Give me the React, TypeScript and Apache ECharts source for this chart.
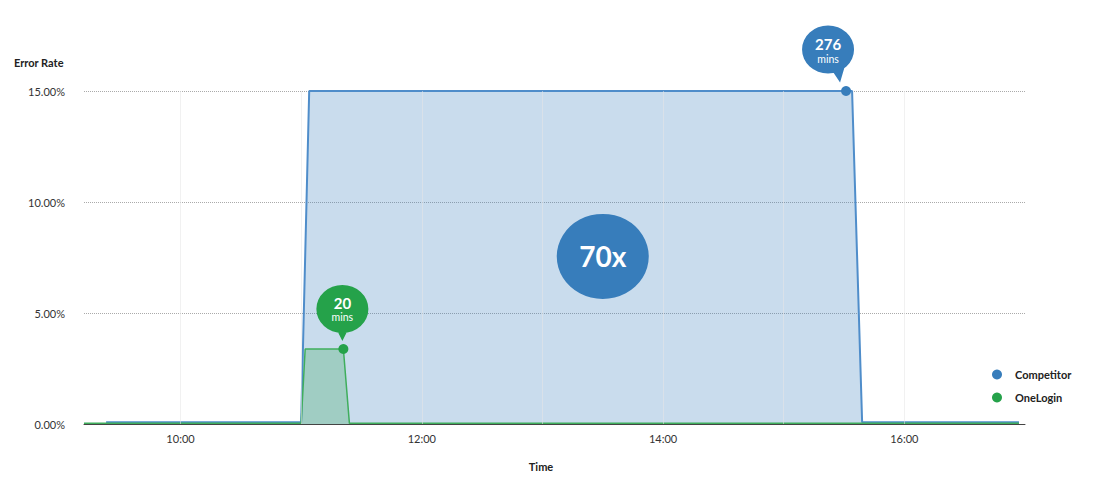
import React, { useEffect, useRef } from 'react';
import * as echarts from 'echarts';

// ---- data ----
const xMin = '09:12';
const xMax = '17:00';
const xTickLabels = ['10:00', '12:00', '14:00', '16:00'];

const competitorTimes = ['09:23', '11:00', '11:04', '15:31', '15:34', '15:39', '16:57'];
const competitorValues = [0.08, 0.08, 15.0, 15.0, 15.0, 0.08, 0.08];

const oneLoginTimes = ['09:12', '11:00', '11:02', '11:21', '11:24', '16:57'];
const oneLoginValues = [0.03, 0.03, 3.38, 3.38, 0.03, 0.03];

const competitorPeak = { time: '15:31', value: 15.0, mins: 276 };
const oneLoginPeak = { time: '11:21', value: 3.38, mins: 20 };
const ratioLabel = { time: '13:30', value: 7.55, text: '70x' };

const seriesNames = ['Competitor', 'OneLogin'];

// ---- styles ----
const FONT = 'Lato, "Open Sans", sans-serif';
const BLUE = '#377dbb';
const GREEN = '#25a24a';

const toTs = (s: string) => {
  const [h, m] = s.split(':').map(Number);
  return new Date(2024, 0, 1, h, m).getTime();
};

const bubbleCenter = 'M0,24 A26,24 0 1 1 52,24 A26,24 0 1 1 0,24 Z M20,44 L32,44 L26,56 Z';
const bubbleRight = 'M0,24 A26,24 0 1 1 52,24 A26,24 0 1 1 0,24 Z M30,45 L43,40 L38,57 Z';

const bubbleLabel = (mins: number, dy: number) => ({
  show: true,
  position: 'inside',
  offset: [0, dy],
  formatter: `{a|${mins}}\n{b|mins}`,
  rich: {
    a: { fontFamily: FONT, fontSize: 15, fontWeight: 'bold', color: '#fff', lineHeight: 17, align: 'center' },
    b: { fontFamily: FONT, fontSize: 10.5, color: '#fff', lineHeight: 12, align: 'center' },
  },
});

export default function App() {
  const ref = useRef<HTMLDivElement>(null);

  useEffect(() => {
    if (!ref.current) return;
    const chart = echarts.init(ref.current, null, { renderer: 'svg' });

    const option: any = {
      animation: false,
      textStyle: { fontFamily: FONT },
      grid: { left: 84, right: 71, top: 91, bottom: 59 },
      legend: {
        orient: 'vertical',
        left: 987,
        top: 364,
        icon: 'circle',
        itemWidth: 26,
        itemHeight: 10,
        itemGap: 12,
        data: seriesNames,
        textStyle: { fontFamily: FONT, fontSize: 11, fontWeight: 'bold', color: '#222' },
      },
      graphic: [
        {
          type: 'text',
          left: 14,
          top: 57,
          style: { text: 'Error Rate', font: `bold 11px ${FONT}`, fill: '#222' },
        },
        {
          type: 'text',
          x: 541,
          y: 466,
          style: { text: 'Time', font: `bold 11px ${FONT}`, fill: '#222', align: 'center', verticalAlign: 'middle' },
        },
      ],
      xAxis: {
        type: 'time',
        min: toTs(xMin),
        max: toTs(xMax),
        minInterval: 3600000,
        maxInterval: 3600000,
        z: 3,
        axisLine: { lineStyle: { color: '#444', width: 1 } },
        axisTick: { show: false },
        axisLabel: {
          color: '#333',
          fontSize: 11,
          margin: 9,
          showMinLabel: false,
          showMaxLabel: false,
          hideOverlap: false,
          formatter: (v: number) => {
            const d = new Date(v);
            if (d.getMinutes() !== 0) return '';
            const s = String(d.getHours()).padStart(2, '0') + ':00';
            return xTickLabels.includes(s) ? s : '';
          },
        },
        splitLine: {
          show: true,
          showMinLine: false,
          showMaxLine: false,
          lineStyle: { color: '#e6e6e6', width: 1, opacity: 0.55 },
        },
      },
      yAxis: {
        type: 'value',
        min: 0,
        max: 15,
        interval: 5,
        z: 1,
        axisLine: { show: false },
        axisTick: { show: false },
        axisLabel: {
          color: '#333',
          fontSize: 11,
          margin: 19,
          formatter: (v: number) => v.toFixed(2) + '%',
        },
        splitLine: { lineStyle: { color: '#aaa', type: 'dotted', width: 1 } },
      },
      series: [
        {
          name: seriesNames[0],
          type: 'line',
          color: BLUE,
          symbol: 'none',
          data: competitorTimes.map((t, i) => [toTs(t), competitorValues[i]]),
          lineStyle: { color: '#4f8dca', width: 2 },
          areaStyle: { color: 'rgba(55,125,187,0.27)', opacity: 1 },
          z: 2,
          markPoint: {
            silent: true,
            data: [
              {
                coord: [toTs(competitorPeak.time), competitorPeak.value],
                symbol: 'circle',
                symbolSize: 10,
                itemStyle: { color: BLUE },
                label: { show: false },
              },
              {
                coord: [toTs(competitorPeak.time), competitorPeak.value],
                symbol: 'path://' + bubbleRight,
                symbolSize: [52, 57],
                symbolOffset: [-18, -37],
                itemStyle: { color: BLUE },
                label: bubbleLabel(competitorPeak.mins, -4),
              },
              {
                coord: [toTs(ratioLabel.time), ratioLabel.value],
                symbol: 'circle',
                symbolSize: [92, 85],
                itemStyle: { color: BLUE },
                label: {
                  show: true,
                  position: 'inside',
                  formatter: ratioLabel.text,
                  color: '#fff',
                  fontFamily: FONT,
                  fontSize: 28,
                  fontWeight: 'bold',
                },
              },
            ],
          },
        },
        {
          name: seriesNames[1],
          type: 'line',
          color: GREEN,
          symbol: 'none',
          data: oneLoginTimes.map((t, i) => [toTs(t), oneLoginValues[i]]),
          lineStyle: { color: '#3fae5c', width: 1.5 },
          areaStyle: { color: 'rgba(39,160,72,0.25)', opacity: 1 },
          z: 2,
          markPoint: {
            silent: true,
            data: [
              {
                coord: [toTs(oneLoginPeak.time), oneLoginPeak.value],
                symbol: 'circle',
                symbolSize: 10,
                itemStyle: { color: GREEN },
                label: { show: false },
              },
              {
                coord: [toTs(oneLoginPeak.time), oneLoginPeak.value],
                symbol: 'path://' + bubbleCenter,
                symbolSize: [52, 56],
                symbolOffset: [-1, -36],
                itemStyle: { color: GREEN },
                label: bubbleLabel(oneLoginPeak.mins, -4),
              },
            ],
          },
        },
      ],
    };

    chart.setOption(option);
    return () => chart.dispose();
  }, []);

  return (
    <div
      ref={ref}
      style={{ position: 'absolute', left: 0, top: 0, width: 1096, height: 483, background: '#fff' }}
    />
  );
}
